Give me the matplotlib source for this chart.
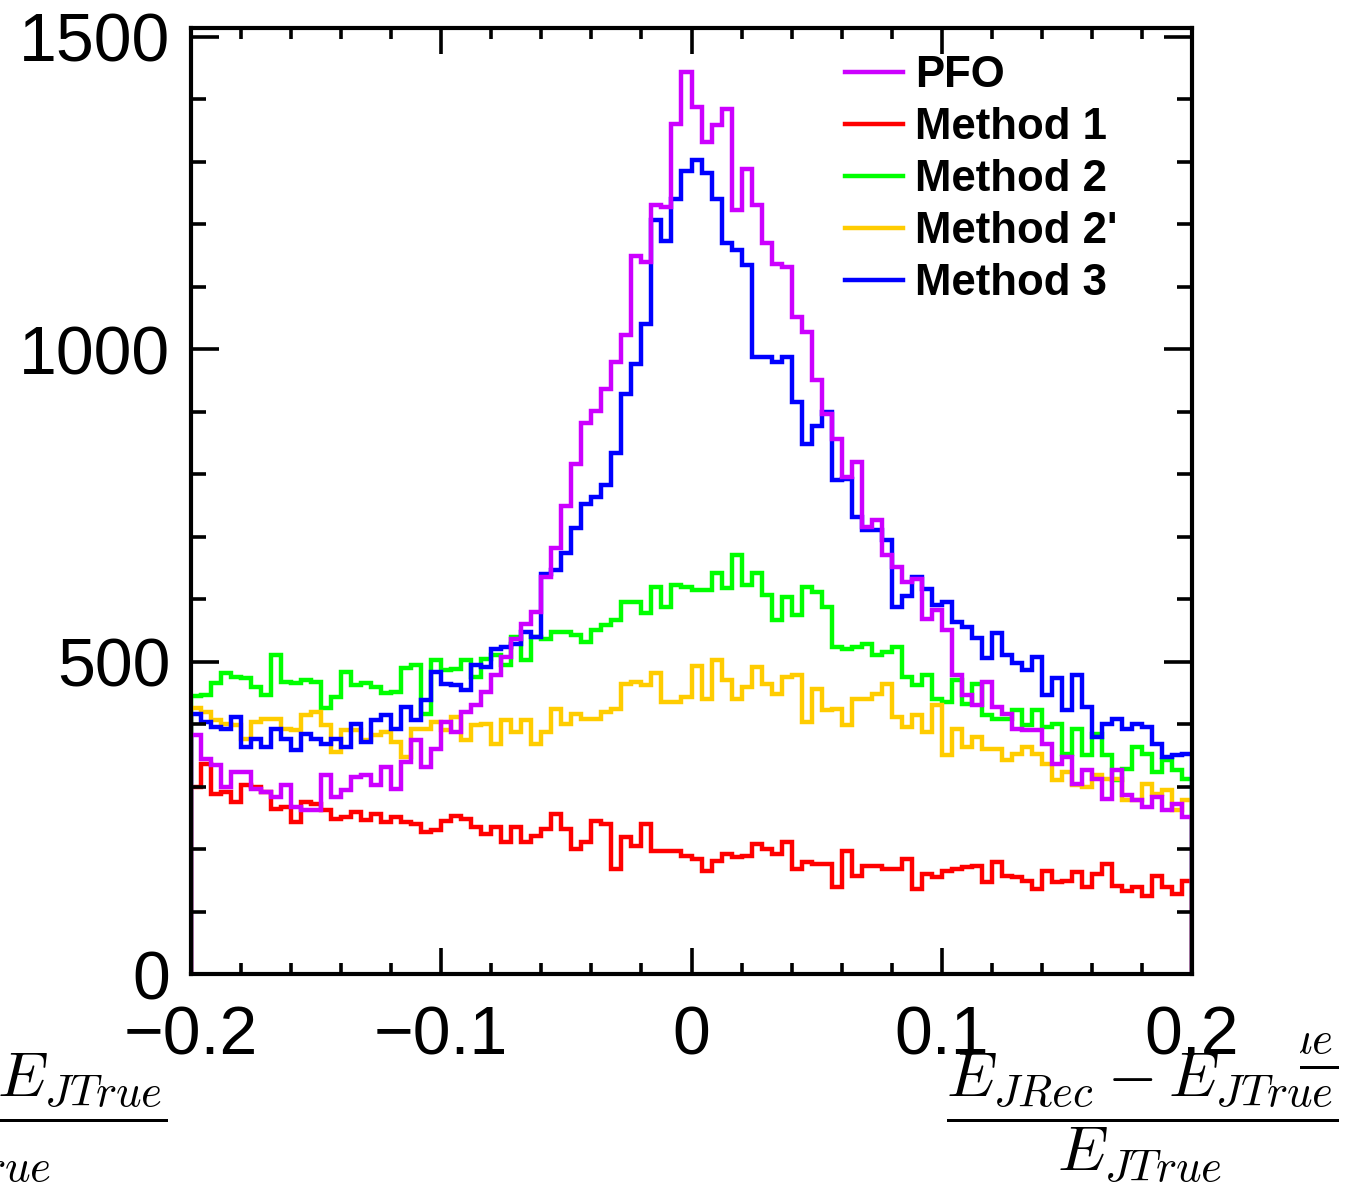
#!/usr/bin/env python
# -*- coding: utf-8 -*-

import numpy as np
import matplotlib
matplotlib.use("Agg")
from matplotlib import pyplot as plt
from matplotlib.ticker import MultipleLocator
from matplotlib.transforms import Bbox

# binning of the jet energy resolution histograms
x_lo, x_hi, n_bins = -0.2, 0.2, 100

labels = ["PFO", "Method 1", "Method 2", "Method 2'", "Method 3"]
colors = ["#cc00ff", "#ff0000", "#00ff00", "#ffcc00", "#0000ff"]

pfo = [382, 344, 334, 299, 323, 323, 296, 291, 283, 302, 267, 262, 262, 318, 283, 294, 315, 318, 302, 331,
       296, 339, 374, 331, 360, 403, 387, 419, 430, 451, 478, 507, 536, 560, 579, 636, 682, 749, 816, 882,
       901, 937, 979, 1022, 1149, 1140, 1231, 1228, 1361, 1443, 1388, 1331, 1358, 1385, 1222, 1288, 1231, 1170, 1137, 1131,
       1052, 1028, 950, 897, 856, 795, 819, 715, 726, 670, 651, 627, 632, 568, 582, 550, 478, 446, 430, 467,
       427, 416, 392, 390, 390, 368, 336, 347, 304, 326, 312, 280, 326, 286, 278, 267, 283, 262, 272, 251]

method1 = [300, 336, 288, 291, 275, 302, 299, 291, 264, 267, 243, 275, 272, 262, 248, 251, 259, 246, 256, 243,
           251, 243, 240, 227, 230, 245, 253, 248, 235, 224, 235, 211, 235, 211, 221, 232, 256, 232, 200, 211,
           245, 240, 168, 219, 205, 240, 197, 197, 197, 189, 184, 165, 181, 192, 187, 189, 208, 200, 192, 211,
           168, 179, 176, 176, 139, 197, 157, 173, 173, 168, 168, 184, 136, 160, 155, 165, 168, 171, 173, 147,
           179, 157, 155, 149, 136, 165, 147, 149, 163, 139, 160, 176, 141, 133, 139, 125, 157, 139, 128, 149]

method2 = [445, 447, 465, 481, 475, 473, 459, 446, 510, 467, 465, 470, 467, 425, 443, 483, 462, 465, 459, 449,
           451, 489, 494, 416, 503, 486, 488, 502, 475, 504, 510, 494, 539, 502, 539, 536, 547, 547, 542, 531,
           550, 558, 566, 595, 595, 577, 619, 587, 622, 619, 614, 614, 641, 617, 670, 622, 641, 606, 566, 603,
           574, 619, 611, 587, 523, 520, 523, 528, 510, 515, 523, 475, 462, 478, 440, 435, 470, 432, 464, 414,
           408, 408, 422, 398, 422, 395, 400, 352, 392, 350, 384, 350, 310, 328, 363, 352, 323, 342, 326, 312]

method2p = [425, 419, 406, 400, 398, 376, 403, 408, 408, 392, 390, 414, 419, 398, 355, 390, 390, 374, 382, 387,
            371, 347, 392, 392, 404, 390, 411, 374, 398, 400, 368, 406, 387, 406, 368, 387, 424, 400, 416, 408,
            408, 419, 424, 464, 467, 462, 482, 435, 435, 443, 493, 440, 502, 470, 440, 459, 491, 464, 448, 475,
            478, 403, 456, 422, 424, 398, 440, 440, 448, 464, 411, 395, 414, 387, 430, 350, 392, 363, 379, 360,
            360, 342, 352, 363, 352, 336, 310, 323, 302, 299, 318, 312, 312, 278, 278, 304, 288, 294, 262, 278]

method3 = [416, 403, 395, 392, 411, 363, 376, 364, 392, 376, 358, 384, 376, 368, 376, 363, 400, 371, 406, 414,
           392, 427, 406, 438, 483, 464, 462, 454, 494, 491, 520, 523, 528, 547, 540, 640, 646, 673, 713, 752,
           764, 782, 834, 928, 976, 1040, 1206, 1173, 1240, 1285, 1303, 1282, 1240, 1170, 1158, 1134, 988, 988, 979, 988,
           916, 849, 877, 900, 790, 792, 731, 710, 710, 694, 587, 605, 635, 616, 590, 595, 563, 555, 537, 505,
           545, 510, 497, 486, 507, 446, 473, 422, 478, 427, 379, 400, 408, 392, 400, 395, 368, 347, 350, 352]

x_title = r"$\dfrac{E_{JRec}-E_{JTrue}}{E_{JTrue}}$"


def plot_hists(out):
    plt.rcParams["mathtext.fontset"] = "cm"
    plt.rcParams["font.family"] = ["Liberation Sans", "DejaVu Sans"]

    fig = plt.figure(figsize=(13.45, 11.85), dpi=100)
    ax = fig.add_axes([191 / 1345, 1 - 974 / 1185, 1001 / 1345, 946 / 1185])

    edges = np.linspace(x_lo, x_hi, n_bins + 1)
    series = [pfo, method1, method2, method2p, method3]

    # drawing order: purple on top
    for i in [1, 2, 3, 4, 0]:
        ax.stairs(series[i], edges, baseline=0, fill=False, color=colors[i], linewidth=3.2)

    leg_lines = [plt.Line2D([], [], color=colors[i], linewidth=3.2) for i in range(5)]
    ax.legend(leg_lines, labels, loc="upper left", bbox_to_anchor=(0.653, 0.971), frameon=False,
              prop={"weight": "bold", "size": 31.5}, handlelength=1.33, handletextpad=0.27,
              labelspacing=0.25, borderpad=0, borderaxespad=0)

    ax.set_xlim(x_lo, x_hi)
    ax.set_ylim(0, 1514)

    ax.xaxis.set_major_locator(MultipleLocator(0.1))
    ax.xaxis.set_minor_locator(MultipleLocator(0.02))
    ax.yaxis.set_major_locator(MultipleLocator(500))
    ax.yaxis.set_minor_locator(MultipleLocator(100))
    ax.set_xticks([-0.2, -0.1, 0, 0.1, 0.2])
    ax.set_xticklabels(["\u22120.2", "\u22120.1", "0", "0.1", "0.2"])

    ax.tick_params(which="both", direction="in", top=True, right=True, width=2.6, labelsize=49)
    ax.tick_params(axis="x", which="major", length=19, pad=22)
    ax.tick_params(axis="x", which="minor", length=8)
    ax.tick_params(axis="y", which="major", length=20, pad=15)
    ax.tick_params(axis="y", which="minor", length=11)
    for s in ax.spines.values():
        s.set_linewidth(3)

    # x title, drawn three times like the original canvas
    y_t = 1 - 1118 / 1185
    fig.text(1142 / 1345, y_t, x_title, fontsize=46, ha="center", va="center")
    fig.text(-29 / 1345, y_t, x_title, fontsize=46, ha="center", va="center")
    t = fig.text(1142 / 1345, y_t + 53 / 1185, x_title, fontsize=46, ha="center", va="center")
    t.set_clip_box(Bbox.from_extents(1300, 0, 1345, 1185))
    t.set_clip_on(True)

    fig.savefig(out, dpi=100)


def main():
    plot_hists("out.png")


if __name__ == "__main__":
    main()
